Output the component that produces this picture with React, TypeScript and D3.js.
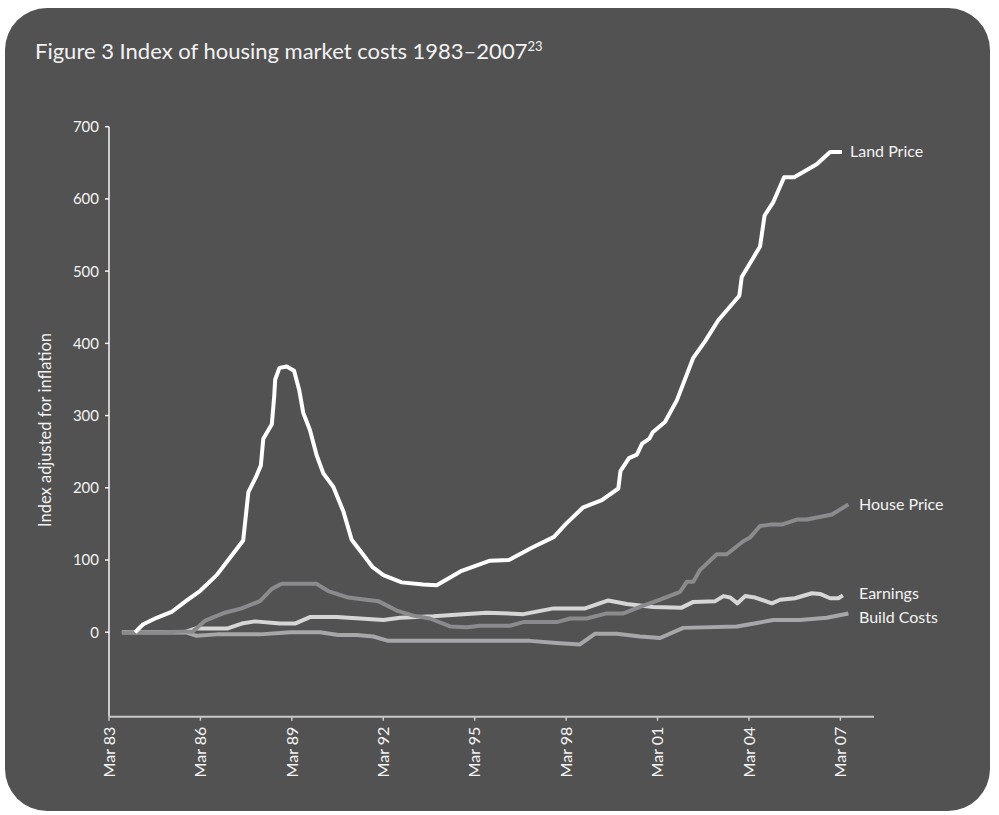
import React from "react";
import * as d3 from "d3";

// ---- Data (decimal year, index value) ----
const landYears = [1984.02, 1984.29, 1984.73, 1985.22, 1985.72, 1986.15, 1986.7, 1987.08, 1987.57, 1987.74, 1987.99, 1988.15, 1988.23, 1988.51, 1988.59, 1988.62, 1988.76, 1989.0, 1989.24, 1989.41, 1989.54, 1989.76, 1989.98, 1990.2, 1990.53, 1990.86, 1991.13, 1991.46, 1991.82, 1992.17, 1992.77, 1993.48, 1993.92, 1994.74, 1995.67, 1996.29, 1997.04, 1997.77, 1998.16, 1998.73, 1999.34, 1999.88, 1999.95, 2000.23, 2000.49, 2000.66, 2000.9, 2001.01, 2001.41, 2001.8, 2002.34, 2002.73, 2003.16, 2003.85, 2003.93, 2004.53, 2004.68, 2004.97, 2005.32, 2005.65, 2006.39, 2006.83, 2007.22];
const landValues = [0, 11, 20, 28, 44, 57, 79, 100, 127, 194, 215, 231, 268, 288, 328, 350, 366, 368, 362, 335, 304, 280, 245, 220, 201, 167, 128, 110, 90, 79, 69, 66, 65, 85, 99, 100, 117, 132, 150, 173, 183, 199, 223, 241, 246, 261, 268, 277, 291, 321, 380, 403, 432, 466, 492, 534, 577, 596, 630, 630, 648, 665, 665];

const houseYears = [1983.59, 1984.84, 1985.92, 1986.32, 1986.97, 1987.52, 1988.12, 1988.51, 1988.83, 1989.98, 1990.36, 1991.02, 1992.0, 1992.61, 1993.15, 1993.7, 1994.36, 1994.91, 1995.34, 1996.32, 1996.76, 1997.86, 1998.3, 1998.84, 1999.5, 2000.05, 2000.59, 2001.25, 2001.91, 2002.13, 2002.34, 2002.56, 2003.11, 2003.44, 2003.98, 2004.2, 2004.53, 2004.86, 2005.24, 2005.74, 2006.07, 2006.89, 2007.43];
const houseValues = [0, 0, 1, 16, 27, 33, 43, 60, 67, 67, 57, 48, 43, 30, 23, 19, 8, 7, 9, 9, 14, 14, 19, 19, 26, 26, 35, 45, 56, 70, 70, 86, 108, 108, 126, 131, 147, 149, 149, 156, 156, 163, 177];

const earningsYears = [1983.59, 1985.66, 1985.99, 1987.04, 1987.52, 1987.96, 1988.78, 1989.27, 1989.76, 1990.64, 1992.17, 1992.72, 1993.81, 1994.79, 1995.56, 1996.77, 1997.75, 1998.79, 1999.55, 2000.16, 2001.03, 2001.96, 2002.34, 2003.06, 2003.33, 2003.55, 2003.79, 2004.04, 2004.37, 2004.92, 2005.19, 2005.68, 2006.23, 2006.5, 2006.83, 2007.1, 2007.25];
const earningsValues = [0, 0, 5, 5, 12, 15, 12, 12, 21, 21, 17, 20, 22, 25, 27, 25, 33, 33, 44, 39, 35, 34, 42, 43, 50, 48, 40, 50, 48, 40, 45, 47, 54, 53, 47, 47, 51];

const buildYears = [1983.59, 1985.66, 1986.04, 1986.7, 1988.12, 1989.11, 1990.09, 1990.69, 1991.3, 1991.84, 1992.33, 1996.98, 1997.86, 1998.62, 1999.12, 1999.83, 2000.59, 2001.25, 2002.01, 2003.77, 2004.2, 2004.97, 2005.84, 2006.72, 2007.43];
const buildValues = [0, 0, -5, -3, -3, 0, 0, -4, -4, -6, -12, -12, -15, -17, -2, -2, -6, -8, 6, 8, 11, 17, 17, 20, 26];

const yTicks = [0, 100, 200, 300, 400, 500, 600, 700];
const xTickYears = [1983, 1986, 1989, 1992, 1995, 1998, 2001, 2004, 2007];
const xTickLabels = ["Mar 83", "Mar 86", "Mar 89", "Mar 92", "Mar 95", "Mar 98", "Mar 01", "Mar 04", "Mar 07"];

const seriesNames = ["Build Costs", "Earnings", "House Price", "Land Price"];

const FONT = "Lato, 'Open Sans', sans-serif";

export default function App() {
  const W = 999, H = 815;
  const x = d3.scaleLinear().domain([1983 + 2 / 12, 2008.27]).range([109, 874]);
  const y = d3.scaleLinear().domain([-117, 700]).range([716.7, 126.7]);

  const series = [
    { name: seriesNames[0], years: buildYears, values: buildValues, color: "#a7a7aa", labelY: 622.7 },
    { name: seriesNames[1], years: earningsYears, values: earningsValues, color: "#d6d6d6", labelY: 599.3 },
    { name: seriesNames[2], years: houseYears, values: houseValues, color: "#8b8b8e", labelY: 510 },
    { name: seriesNames[3], years: landYears, values: landValues, color: "#ffffff", labelY: 156.7 },
  ];

  const line = d3
    .line<[number, number]>()
    .x((d) => x(d[0]))
    .y((d) => y(d[1]));

  const labelX: Record<string, number> = {
    "Land Price": 850,
    "House Price": 859,
    "Earnings": 859,
    "Build Costs": 859,
  };

  return (
    <svg
      width={W}
      height={H}
      style={{ position: "absolute", left: 0, top: 0, display: "block" }}
      fontFamily={FONT}
    >
      <rect x={0} y={0} width={W} height={H} fill="#ffffff" />
      <rect x={5} y={8} width={985} height={803} rx={42} ry={42} fill="#525252" />

      {/* Title */}
      <text x={35} y={59} fill="#f2f2f2" fontSize={22}>
        Figure 3 Index of housing market costs 1983–2007
        <tspan fontSize={13} dy={-8}>23</tspan>
      </text>

      {/* Y axis title */}
      <text
        transform={`translate(51, 430) rotate(-90)`}
        textAnchor="middle"
        fill="#f2f2f2"
        fontSize={16.5}
      >
        Index adjusted for inflation
      </text>

      {/* Y axis */}
      <line x1={x.range()[0]} x2={x.range()[0]} y1={y(700)} y2={y(-117)} stroke="#f4f4f4" strokeWidth={1.5} />
      {yTicks.map((t) => (
        <g key={t}>
          <line x1={x.range()[0] - 4} x2={x.range()[0]} y1={y(t)} y2={y(t)} stroke="#f4f4f4" strokeWidth={1.5} />
          <text x={99} y={y(t)} dy="0.36em" textAnchor="end" fill="#f2f2f2" fontSize={15}>
            {t}
          </text>
        </g>
      ))}

      {/* X axis */}
      <line x1={x.range()[0]} x2={x.range()[1]} y1={y(-117)} y2={y(-117)} stroke="#c9c9c9" strokeWidth={2} />
      {xTickYears.map((yr, i) => {
        const px = x(yr + 2 / 12);
        return (
          <g key={yr}>
            <line x1={px} x2={px} y1={y(-117)} y2={y(-117) + 4} stroke="#c9c9c9" strokeWidth={1.5} />
            <text
              transform={`translate(${px}, ${y(-117) + 10}) rotate(-90)`}
              textAnchor="end"
              dy="0.36em"
              fill="#f2f2f2"
              fontSize={16}
            >
              {xTickLabels[i]}
            </text>
          </g>
        );
      })}

      {/* Lines */}
      {series.map((s) => (
        <path
          key={s.name}
          d={line(s.years.map((yr, i) => [yr, s.values[i]] as [number, number])) || ""}
          fill="none"
          stroke={s.color}
          strokeWidth={4}
          strokeLinejoin="round"
        />
      ))}

      {/* Series labels */}
      {series.map((s) => (
        <text key={s.name + "-label"} x={labelX[s.name]} y={s.labelY} fill="#f2f2f2" fontSize={16}>
          {s.name}
        </text>
      ))}
    </svg>
  );
}
